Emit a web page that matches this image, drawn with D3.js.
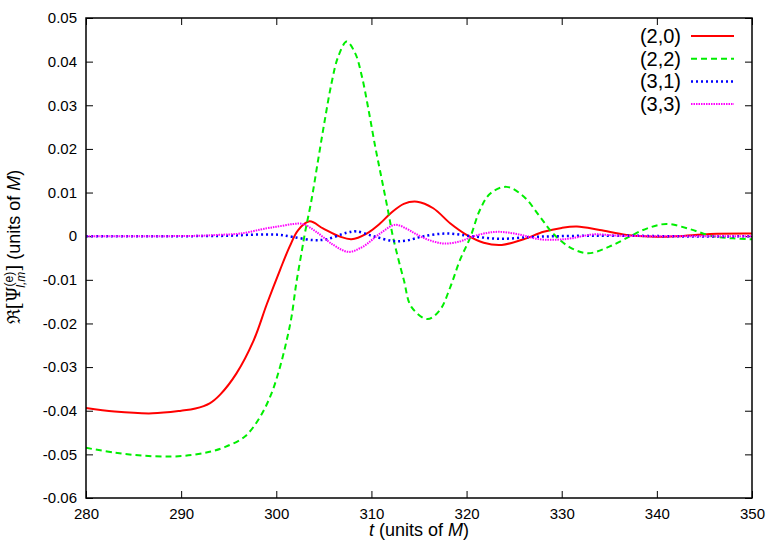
<!DOCTYPE html>
<html>
<head>
<meta charset="utf-8">
<script src="https://cdn.jsdelivr.net/npm/d3@7"></script>
<style>
    body { margin: 0; background: #fff; }
    text { font-family: "Liberation Sans", Arial, sans-serif; fill: #000; }
</style>
</head>
<body>
<div id="graph"></div>
<script>
// Axis ticks
const xTicks = [280, 290, 300, 310, 320, 330, 340, 350];
const yTicks = [0.05, 0.04, 0.03, 0.02, 0.01, 0, -0.01, -0.02, -0.03, -0.04, -0.05, -0.06];
const yTickLabels = ["0.05", "0.04", "0.03", "0.02", "0.01", "0", "-0.01", "-0.02", "-0.03", "-0.04", "-0.05", "-0.06"];

// (2,0)
const t20 = [280, 283, 287, 290, 291.5, 293, 294.1, 295.8, 297.6, 299.0, 300.4, 301.4, 302.3, 303.5, 304.9, 306.7, 307.9, 309.5, 310.9, 312.0, 313.4, 314.8, 316.5, 318.3, 320.0, 321.8, 323.7, 326.0, 328.1, 330.0, 331.6, 334.0, 336.8, 339.3, 342.1, 345.6, 350];
const v20 = [-0.0394, -0.0402, -0.0406, -0.0400, -0.0395, -0.0383, -0.0363, -0.0315, -0.0240, -0.0156, -0.0077, -0.0024, 0.0014, 0.0034, 0.0018, -0.0001, -0.0007, 0.0006, 0.0029, 0.0052, 0.0074, 0.0079, 0.0064, 0.0029, 0.0003, -0.0015, -0.0020, -0.0007, 0.0010, 0.0019, 0.0022, 0.0014, 0.0003, -0.0001, 0.0000, 0.0005, 0.0006];

// (2,2)
const t22 = [280, 283, 286, 289, 291.3, 293, 294.5, 296.7, 298.3, 299.5, 300.4, 301.1, 301.6, 302.1, 302.7, 303.0, 303.7, 304.4, 305.1, 305.8, 306.5, 307.4, 308.3, 309.0, 309.7, 310.4, 311.1, 311.8, 312.3, 313.4, 314.2, 315.9, 317.2, 318.3, 319.3, 320.4, 321.4, 322.5, 324.2, 326.0, 327.7, 329.1, 330.9, 332.8, 335.0, 337.2, 339.0, 341.0, 343.5, 345.8, 348.0, 350];
const v22 = [-0.0485, -0.0496, -0.0503, -0.0505, -0.0501, -0.0494, -0.0484, -0.0459, -0.0414, -0.0360, -0.0299, -0.0238, -0.0185, -0.0108, -0.0032, 0.0006, 0.0083, 0.0175, 0.0266, 0.0350, 0.0411, 0.0446, 0.0419, 0.0366, 0.0289, 0.0205, 0.0129, 0.0052, -0.0005, -0.0100, -0.0162, -0.0190, -0.0169, -0.0116, -0.0055, -0.0002, 0.0060, 0.0098, 0.0113, 0.0091, 0.0045, 0.0006, -0.0026, -0.0039, -0.0024, 0.0000, 0.0018, 0.0028, 0.0016, 0.0000, -0.0005, -0.0007];

// (3,1)
const t31 = [280, 290, 295, 297, 299, 300.4, 301.8, 303.9, 305.3, 307.4, 308.4, 310.2, 312.3, 313.7, 315.5, 317.9, 320.5, 323.5, 326.7, 329.5, 333, 337, 341, 345, 350];
const v31 = [0.0000, 0.0000, 0.0001, 0.0003, 0.0004, 0.0003, -0.0002, -0.0009, -0.0007, 0.0008, 0.0011, 0.0000, -0.0011, -0.0010, 0.0000, 0.0006, 0.0000, -0.0006, -0.0002, 0.0000, 0.0001, 0.0001, 0.0000, -0.0001, 0.0000];

// (3,3)
const t33 = [280, 288, 292, 294, 296.2, 299, 300.4, 301.8, 302.8, 304.2, 306.0, 307.6, 309.1, 310.9, 312.5, 313.7, 314.6, 315.5, 316.5, 317.7, 319.3, 320.5, 321.8, 323.3, 325.3, 327.7, 329.5, 331, 333.3, 336, 340, 345, 350];
const v33 = [0.0000, 0.0000, 0.0001, 0.0003, 0.0006, 0.0018, 0.0023, 0.0028, 0.0028, 0.0010, -0.0020, -0.0036, -0.0024, 0.0006, 0.0026, 0.0017, 0.0006, -0.0004, -0.0012, -0.0017, -0.0012, -0.0002, 0.0006, 0.0010, 0.0005, -0.0007, -0.0008, -0.0005, 0.0004, 0.0001, 0.0000, 0.0000, 0.0000];

const labels = ["(2,0)", "(2,2)", "(3,1)", "(3,3)"];

const width = 778, height = 545;
const margin = { top: 18, right: 26, bottom: 47, left: 86 };
const iw = width - margin.left - margin.right;
const ih = height - margin.top - margin.bottom;

let series = [
    { label: labels[0], t: t20, v: v20, color: "#ff0000", dash: null, w: 2 },
    { label: labels[1], t: t22, v: v22, color: "#00ee00", dash: "6,4", w: 2 },
    { label: labels[2], t: t31, v: v31, color: "#0000ff", dash: "2,3", w: 2.5 },
    { label: labels[3], t: t33, v: v33, color: "#ff00ff", dash: "1.5,1", w: 2 }
];

let svg = d3.select("#graph")
    .append("svg")
    .attr("width", width)
    .attr("height", height)
    .append("g")
    .attr("transform", `translate(${margin.left}, ${margin.top})`);

svg.append("defs")
    .append("clipPath")
    .attr("id", "plot_clip")
    .append("rect")
    .attr("width", iw)
    .attr("height", ih);

let x = d3.scaleLinear().domain([280, 350]).range([0, iw]);
let y = d3.scaleLinear().domain([-0.06, 0.05]).range([ih, 0]);

// axes, ticks pointing inward
svg.append("g")
    .attr("class", "y-axis")
    .call(d3.axisLeft(y).tickValues(yTicks).tickSize(-7).tickPadding(9)
        .tickFormat((d, i) => yTickLabels[i]));
svg.append("g")
    .attr("transform", `translate(${iw}, 0)`)
    .call(d3.axisRight(y).tickValues(yTicks).tickSize(-7).tickFormat(""));
svg.append("g")
    .attr("class", "x-axis")
    .attr("transform", `translate(0, ${ih})`)
    .call(d3.axisBottom(x).tickValues(xTicks).tickSize(-7).tickPadding(10).tickFormat(d3.format("d")));
svg.append("g")
    .call(d3.axisTop(x).tickValues(xTicks).tickSize(-7).tickFormat(""));

svg.selectAll(".domain").remove();
svg.selectAll(".tick line").attr("stroke", "#000").attr("stroke-width", 1);
svg.selectAll(".tick text")
    .style("font-family", "'Liberation Sans', Arial, sans-serif")
    .style("font-size", "15px")
    .attr("fill", "#000");

// lines
let line = d3.line()
    .x(d => x(d[0]))
    .y(d => y(d[1]))
    .curve(d3.curveCatmullRom.alpha(0.5));

svg.append("g")
    .attr("clip-path", "url(#plot_clip)")
    .selectAll("path")
    .data(series)
    .enter()
    .append("path")
    .attr("d", s => line(s.t.map((t, i) => [t, s.v[i]])))
    .attr("fill", "none")
    .attr("stroke", s => s.color)
    .attr("stroke-width", s => s.w)
    .attr("stroke-dasharray", s => s.dash);

// frame
svg.append("rect")
    .attr("width", iw)
    .attr("height", ih)
    .attr("fill", "none")
    .attr("stroke", "#000")
    .attr("stroke-width", 1.5);

// legend
let legend = svg.append("g")
    .selectAll("g")
    .data(series)
    .enter()
    .append("g")
    .attr("transform", (d, i) => `translate(0, ${18 + i * 22.7})`);
legend.append("text")
    .attr("x", 681 - margin.left)
    .attr("y", 7)
    .attr("text-anchor", "end")
    .style("font-size", "20px")
    .text(d => d.label);
legend.append("line")
    .attr("x1", 691 - margin.left)
    .attr("x2", 734 - margin.left)
    .attr("stroke", d => d.color)
    .attr("stroke-width", d => d.w)
    .attr("stroke-dasharray", d => d.dash);

// axis titles
let xt = svg.append("text")
    .attr("x", iw / 2)
    .attr("y", ih + 38)
    .attr("text-anchor", "middle")
    .style("font-size", "18px");
xt.append("tspan").attr("font-style", "italic").text("t");
xt.append("tspan").text(" (units of ");
xt.append("tspan").attr("font-style", "italic").text("M");
xt.append("tspan").text(")");

let yt = svg.append("text")
    .attr("transform", `translate(${20 - margin.left}, ${247 - margin.top}) rotate(-90)`)
    .attr("text-anchor", "middle")
    .style("font-size", "18px");
yt.append("tspan").style("font-family", "'DejaVu Serif', serif").text("\u211C[\u03A8");
yt.append("tspan").attr("dy", -7).style("font-size", "12px").text("(e)");
yt.append("tspan").attr("dx", -16).attr("dy", 12).style("font-size", "12px").attr("font-style", "italic").text("l,m");
yt.append("tspan").attr("dy", -5).style("font-family", "'DejaVu Serif', serif").text("]");
yt.append("tspan").text(" (units of ");
yt.append("tspan").attr("font-style", "italic").text("M");
yt.append("tspan").text(")");
</script>
</body>
</html>
